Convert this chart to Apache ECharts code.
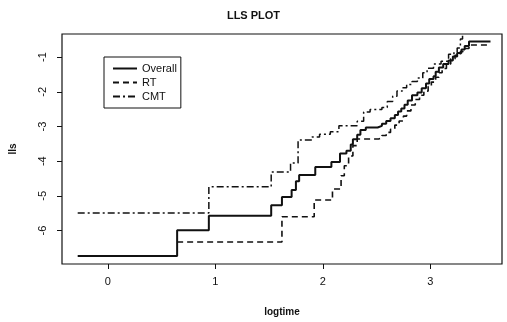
<!DOCTYPE html>
<html>
<head>
<meta charset="utf-8">
<title>LLS PLOT</title>
<script src="https://cdn.jsdelivr.net/npm/echarts@6/dist/echarts.min.js"></script>
<style>
  html, body { margin: 0; padding: 0; background: #fff; }
  #lls_plot { width: 507px; height: 322px; }
</style>
</head>
<body>
<div id="lls_plot"></div>
<script>
  // step curves (logtime, lls)
  const overallLogtime = [-0.28, 0.645, 0.94, 1.52, 1.62, 1.71, 1.75, 1.78, 1.93, 2.08, 2.16, 2.22, 2.26, 2.28, 2.32, 2.35, 2.40, 2.51, 2.55, 2.59, 2.63, 2.67, 2.70, 2.73, 2.76, 2.79, 2.83, 2.88, 2.92, 2.96, 2.99, 3.03, 3.05, 3.08, 3.12, 3.17, 3.21, 3.25, 3.29, 3.32, 3.36, 3.56];
  const overallLls = [-6.73, -5.99, -5.57, -5.27, -5.03, -4.83, -4.58, -4.40, -4.17, -4.02, -3.78, -3.70, -3.52, -3.37, -3.24, -3.10, -3.03, -2.98, -2.92, -2.84, -2.76, -2.67, -2.57, -2.48, -2.37, -2.25, -2.10, -2.02, -1.90, -1.76, -1.63, -1.55, -1.42, -1.30, -1.20, -1.10, -0.98, -0.88, -0.78, -0.68, -0.55, -0.55];

  const rtLogtime = [0.645, 1.62, 1.92, 2.09, 2.17, 2.20, 2.24, 2.28, 2.32, 2.52, 2.55, 2.59, 2.63, 2.67, 2.71, 2.75, 2.78, 2.82, 2.86, 2.90, 2.94, 2.98, 3.01, 3.05, 3.08, 3.11, 3.15, 3.19, 3.23, 3.28, 3.32, 3.36, 3.56];
  const rtLls = [-6.33, -5.60, -5.12, -4.80, -4.42, -4.13, -3.85, -3.55, -3.36, -3.33, -3.26, -3.17, -3.08, -2.96, -2.84, -2.70, -2.55, -2.38, -2.22, -2.10, -1.98, -1.85, -1.72, -1.58, -1.45, -1.33, -1.20, -1.05, -0.95, -0.84, -0.75, -0.65, -0.65];

  const cmtLogtime = [-0.28, 0.94, 1.52, 1.70, 1.77, 1.90, 1.97, 2.07, 2.15, 2.32, 2.38, 2.44, 2.55, 2.60, 2.65, 2.69, 2.74, 2.78, 2.83, 2.88, 2.93, 2.97, 3.03, 3.10, 3.17, 3.22, 3.25, 3.28, 3.30];
  const cmtLls = [-5.49, -4.74, -4.31, -4.05, -3.39, -3.30, -3.22, -3.15, -2.98, -2.85, -2.58, -2.51, -2.45, -2.28, -2.13, -1.98, -1.88, -1.79, -1.70, -1.60, -1.45, -1.32, -1.20, -1.12, -0.92, -0.85, -0.74, -0.48, -0.33];

  const xTicks = [0, 1, 2, 3];
  const yTicks = [-6, -5, -4, -3, -2, -1];

  function zip(xs, ys) {
    return xs.map((x, i) => [x, ys[i]]);
  }

  const font = 'Liberation Sans, Arial, sans-serif';
  const ink = '#111';

  const chart = echarts.init(document.getElementById('lls_plot'));
  const option = {
    animation: false,
    backgroundColor: '#fff',
    title: {
      text: 'LLS PLOT',
      left: 'center',
      top: 5,
      textStyle: { fontFamily: font, fontSize: 11, fontWeight: 'bold', color: ink }
    },
    legend: {
      orient: 'vertical',
      left: 104,
      top: 57,
      padding: [6, 4, 6, 8],
      itemGap: 3,
      itemWidth: 24,
      itemHeight: 10,
      borderColor: ink,
      borderWidth: 1,
      itemStyle: { opacity: 0 },
      textStyle: { fontFamily: font, fontSize: 11, color: ink },
      data: ['Overall', 'RT', 'CMT']
    },
    grid: {
      left: 60,
      right: 5,
      top: 34,
      bottom: 56,
      show: true,
      borderColor: ink,
      borderWidth: 1.2
    },
    xAxis: {
      type: 'value',
      min: -0.426,
      max: 3.667,
      name: 'logtime',
      nameLocation: 'middle',
      nameGap: 43,
      nameTextStyle: { fontFamily: font, fontSize: 10, fontWeight: 'bold', color: ink },
      axisLine: { show: false, onZero: false },
      splitLine: { show: false },
      axisTick: { show: true, length: 5, customValues: xTicks, lineStyle: { color: ink } },
      axisLabel: {
        customValues: xTicks,
        margin: 12,
        fontFamily: font, fontSize: 11, color: ink
      }
    },
    yAxis: {
      type: 'value',
      min: -6.963,
      max: -0.334,
      name: 'lls',
      nameLocation: 'middle',
      nameGap: 44,
      nameTextStyle: { fontFamily: font, fontSize: 10, fontWeight: 'bold', color: ink },
      axisLine: { show: false, onZero: false },
      splitLine: { show: false },
      axisTick: { show: true, length: 5, customValues: yTicks, lineStyle: { color: ink } },
      axisLabel: {
        customValues: yTicks,
        rotate: 90,
        margin: 14,
        fontFamily: font, fontSize: 11, color: ink
      }
    },
    series: [
      {
        name: 'Overall',
        type: 'line',
        step: 'end',
        symbol: 'none',
        data: zip(overallLogtime, overallLls),
        lineStyle: { color: ink, width: 2, type: 'solid' },
        itemStyle: { color: ink }
      },
      {
        name: 'RT',
        type: 'line',
        step: 'end',
        symbol: 'none',
        data: zip(rtLogtime, rtLls),
        lineStyle: { color: ink, width: 1.6, type: [6, 4] },
        itemStyle: { color: ink }
      },
      {
        name: 'CMT',
        type: 'line',
        step: 'end',
        symbol: 'none',
        data: zip(cmtLogtime, cmtLls),
        lineStyle: { color: ink, width: 1.5, type: [7, 3, 2, 3] },
        itemStyle: { color: ink }
      }
    ]
  };
  chart.setOption(option);
</script>
</body>
</html>
